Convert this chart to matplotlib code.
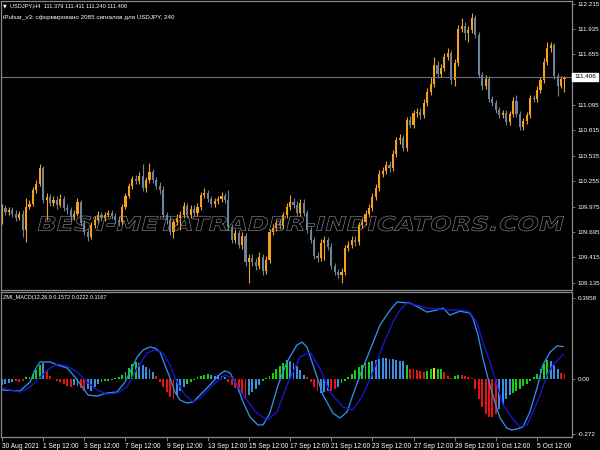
import numpy as np
import matplotlib
matplotlib.use("Agg")
import matplotlib.pyplot as plt
from matplotlib.textpath import TextPath
from matplotlib.patches import PathPatch
from matplotlib.font_manager import FontProperties
from matplotlib.transforms import Affine2D, blended_transform_factory

plt.rcParams['font.family'] = ['Liberation Sans', 'DejaVu Sans']

W, H = 600, 450

# USDJPY H4 candles
first_open = 109.828
closes = [109.960, 109.916, 109.938, 109.894, 109.850, 109.894, 109.718, 109.971, 110.004, 110.159,
          110.225, 110.401, 110.049, 110.082, 110.015, 110.049, 109.993, 110.060, 109.960, 109.938,
          109.861, 109.894, 110.027, 109.795, 109.696, 109.641, 109.773, 109.828, 109.883, 109.850,
          109.883, 109.905, 109.872, 109.828, 109.806, 109.971, 110.093, 110.203, 110.280, 110.258,
          110.313, 110.181, 110.269, 110.357, 110.269, 110.203, 110.159, 109.883, 109.828, 109.696,
          109.806, 109.850, 109.883, 109.982, 109.883, 109.949, 109.905, 109.971, 110.104, 110.126,
          110.060, 110.004, 110.038, 110.060, 110.093, 110.049, 109.751, 109.608, 109.685, 109.553,
          109.652, 109.365, 109.409, 109.365, 109.321, 109.420, 109.266, 109.387, 109.696, 109.740,
          109.795, 109.762, 109.883, 109.971, 110.027, 109.993, 109.905, 110.015, 109.905, 109.718,
          109.608, 109.431, 109.409, 109.574, 109.608, 109.530, 109.321, 109.255, 109.222, 109.255,
          109.519, 109.553, 109.608, 109.586, 109.773, 109.806, 109.894, 109.960, 110.082, 110.181,
          110.335, 110.368, 110.434, 110.401, 110.556, 110.710, 110.732, 110.622, 110.931, 110.876,
          111.008, 111.019, 110.986, 111.118, 111.239, 111.328, 111.537, 111.438, 111.504, 111.625,
          111.669, 111.372, 111.559, 111.934, 111.967, 111.890, 111.923, 112.055, 111.868, 111.427,
          111.305, 111.383, 111.162, 111.118, 111.041, 110.986, 111.008, 110.908, 110.997, 111.140,
          110.997, 110.853, 110.920, 110.986, 111.173, 111.162, 111.261, 111.372, 111.570, 111.724,
          111.757, 111.416, 111.305, 111.379, 111.406]
highs = [110.004, 109.993, 109.971, 109.971, 109.938, 109.927, 109.938, 110.071, 110.049, 110.192,
         110.269, 110.446, 110.424, 110.126, 110.115, 110.093, 110.093, 110.115, 110.093, 110.004,
         109.971, 109.938, 110.071, 110.049, 109.828, 109.729, 109.806, 109.872, 109.927, 109.916,
         109.916, 109.938, 109.938, 109.905, 109.872, 110.004, 110.126, 110.236, 110.313, 110.324,
         110.357, 110.446, 110.302, 110.457, 110.390, 110.302, 110.247, 110.203, 109.916, 109.872,
         109.839, 109.894, 109.927, 110.027, 110.015, 109.993, 109.993, 110.015, 110.137, 110.181,
         110.159, 110.093, 110.071, 110.093, 110.137, 110.126, 110.159, 109.784, 109.729, 109.718,
         109.696, 109.685, 109.454, 109.454, 109.409, 109.476, 109.454, 109.432, 109.729, 109.784,
         109.839, 109.839, 109.916, 110.015, 110.104, 110.071, 110.038, 110.060, 110.060, 109.938,
         109.751, 109.641, 109.476, 109.619, 109.652, 109.641, 109.575, 109.354, 109.288, 109.299,
         109.553, 109.597, 109.652, 109.652, 109.806, 109.850, 109.938, 110.004, 110.126, 110.225,
         110.380, 110.413, 110.479, 110.479, 110.600, 110.743, 110.776, 110.765, 110.964, 110.975,
         111.041, 111.063, 111.063, 111.162, 111.283, 111.405, 111.625, 111.581, 111.548, 111.669,
         111.724, 111.702, 111.603, 111.978, 112.055, 112.011, 111.967, 112.110, 112.088, 111.901,
         111.460, 111.427, 111.416, 111.195, 111.151, 111.074, 111.041, 111.041, 111.030, 111.184,
         111.206, 111.030, 110.953, 111.019, 111.206, 111.206, 111.305, 111.405, 111.614, 111.791,
         111.791, 111.780, 111.449, 111.416, 111.411]
lows = [109.784, 109.883, 109.883, 109.861, 109.817, 109.828, 109.641, 109.586, 109.949, 109.982,
        110.126, 110.203, 110.015, 109.828, 109.982, 109.982, 109.949, 109.971, 109.927, 109.894,
        109.817, 109.828, 109.872, 109.762, 109.663, 109.597, 109.619, 109.740, 109.795, 109.817,
        109.817, 109.861, 109.839, 109.795, 109.762, 109.773, 109.949, 110.071, 110.170, 110.225,
        110.225, 110.148, 110.137, 110.236, 110.236, 110.170, 110.115, 109.850, 109.784, 109.663,
        109.630, 109.773, 109.718, 109.850, 109.850, 109.850, 109.872, 109.872, 109.938, 110.071,
        110.027, 109.971, 109.971, 110.004, 110.027, 110.015, 109.718, 109.575, 109.575, 109.520,
        109.509, 109.321, 109.134, 109.321, 109.277, 109.288, 109.222, 109.233, 109.354, 109.663,
        109.707, 109.729, 109.729, 109.850, 109.938, 109.960, 109.872, 109.872, 109.872, 109.685,
        109.575, 109.398, 109.365, 109.376, 109.387, 109.498, 109.288, 109.222, 109.189, 109.134,
        109.222, 109.487, 109.520, 109.542, 109.553, 109.740, 109.773, 109.861, 109.927, 110.049,
        110.148, 110.302, 110.335, 110.357, 110.368, 110.523, 110.666, 110.589, 110.589, 110.842,
        110.842, 110.964, 110.942, 110.953, 111.085, 111.206, 111.294, 111.394, 111.405, 111.471,
        111.592, 111.328, 111.305, 111.526, 111.901, 111.813, 111.791, 111.890, 111.835, 111.394,
        111.261, 111.272, 111.129, 111.085, 111.008, 110.953, 110.953, 110.876, 110.876, 110.964,
        110.964, 110.820, 110.820, 110.887, 110.953, 111.129, 111.129, 111.228, 111.339, 111.537,
        111.680, 111.383, 111.195, 111.283, 111.240]
last_price = 111.406

price_ticks = [112.215, 111.935, 111.655, 111.375, 111.095, 110.815,
               110.535, 110.255, 109.975, 109.695, 109.415, 109.135]

# ZMI_MACD sub window
hist = [-0.029, -0.024, -0.020, -0.015, -0.010, -0.015, -0.010, 0.010, 0.010, 0.024,
        0.044, 0.068, 0.078, 0.039, 0.015, 0.005, -0.010, -0.015, -0.024, -0.034,
        -0.039, -0.029, -0.034, -0.044, -0.059, -0.049, -0.059, -0.039, -0.024, -0.015,
        -0.010, -0.010, -0.005, 0.005, 0.010, 0.020, 0.034, 0.054, 0.073, 0.083,
        0.078, 0.068, 0.059, 0.049, 0.034, 0.015, -0.015, -0.039, -0.064, -0.088,
        -0.098, -0.078, -0.059, -0.039, -0.024, -0.015, -0.005, 0.010, 0.015, 0.020,
        0.024, 0.020, 0.015, 0.020, 0.015, 0.010, -0.015, -0.029, -0.044, -0.059,
        -0.073, -0.088, -0.078, -0.064, -0.049, -0.029, -0.010, 0.005, 0.015, 0.029,
        0.049, 0.064, 0.078, 0.093, 0.088, 0.078, 0.064, 0.044, 0.020, 0.010,
        -0.015, -0.039, -0.059, -0.068, -0.064, -0.059, -0.059, -0.049, -0.039, -0.020,
        -0.010, 0.010, 0.024, 0.044, 0.059, 0.068, 0.078, 0.083, 0.088, 0.093,
        0.098, 0.103, 0.103, 0.098, 0.098, 0.093, 0.088, 0.088, 0.068, 0.049,
        0.049, 0.044, 0.039, 0.034, 0.039, 0.049, 0.054, 0.049, 0.049, 0.034,
        0.015, 0.005, 0.015, 0.020, 0.020, 0.015, 0.010, 0.005, -0.049, -0.098,
        -0.137, -0.171, -0.186, -0.186, -0.171, -0.147, -0.122, -0.098, -0.078, -0.068,
        -0.059, -0.049, -0.034, -0.024, -0.010, 0.010, 0.024, 0.049, 0.073, 0.093,
        0.088, 0.068, 0.049, 0.029, 0.022]
hist_state = ("bbbb" "rrr" "ggggg" "b" "rrrrrrrr" "bb" "rr" "bbbb" "ggggggggggg" "bbbbb"
              "rrrrrr" "bbb" "ggggggg" "bbbbb" "rrrrrr" "bbbb" "gggggggg" "bbbbb" "rrrr"
              "bbb" "rr" "b" "ggggggggg" "bbbbbbbbbb" "g" "rrrrr" "gg" "y" "gg" "rrr" "gg"
              "rrrr" "rrrrrrr" "bbbb" "ggggggggggg" "bbb" "rr")

macd_x = [0, 5.2, 8.2, 9.6, 11.1, 14, 16.3, 19, 21.3, 23.6, 25.1, 27.7, 30.6, 33.5, 35.9,
          37.9, 39.4, 41.1, 43.1, 44.6, 46.1, 47.5, 49, 50.4, 51.9, 53.9, 55.7, 57.7, 60.6,
          63.6, 65, 66.5, 68.5, 70.3, 72.3, 74.6, 76.1, 78.1, 80.5, 83.1, 86, 87.5, 88.9,
          90.7, 93.6, 96.5, 98.5, 100.6, 102.3, 104.4, 107.3, 110.2, 113.1, 115.2, 119,
          121.9, 123.9, 126.8, 128.6, 130.6, 132.1, 133.5, 136.4, 137.3, 138.8, 140.2,
          141.7, 143.7, 145.2, 147.2, 148.7, 150.1, 151.9, 153.9, 156, 157.7, 159.8, 161.8, 163.6]
macd_v = [-0.055, -0.060, -0.016, 0.043, 0.082, 0.082, 0.067, 0.052, 0.008, -0.045, -0.080,
          -0.085, -0.070, -0.065, -0.016, 0.052, 0.106, 0.140, 0.155, 0.150, 0.130, 0.067,
          0.003, -0.065, -0.104, -0.119, -0.114, -0.080, -0.031, 0.023, 0.038, 0.028, -0.031,
          -0.114, -0.187, -0.226, -0.226, -0.168, -0.031, 0.082, 0.165, 0.179, 0.155, 0.067,
          -0.080, -0.168, -0.192, -0.163, -0.080, 0.018, 0.140, 0.262, 0.335, 0.375, 0.370,
          0.345, 0.326, 0.336, 0.345, 0.311, 0.321, 0.330, 0.321, 0.296, 0.213, 0.101, 0.003,
          -0.114, -0.192, -0.241, -0.251, -0.246, -0.236, -0.163, -0.045, 0.067, 0.130, 0.160, 0.157]
signal_x = [0, 2.3, 5.2, 8.2, 11.1, 14, 16.3, 19, 21.9, 24.8, 27.7, 30.6, 33.5, 36.4, 39.4,
            42.3, 44.6, 46.9, 49, 51, 53.4, 55.7, 57.7, 61.5, 65, 67.3, 70.3, 74.3, 77.3, 80.2,
            83.1, 86.9, 89.8, 92.7, 95.6, 99.4, 102.3, 105.2, 108.2, 111.1, 114, 116, 118.1,
            121, 123.9, 127.7, 131.5, 134.4, 136.4, 138.5, 140.2, 142.3, 144.3, 146.1, 148.7,
            151, 153.1, 154.8, 156.9, 158.9, 160.7, 162.8, 163.6]
signal_v = [-0.045, -0.055, -0.065, -0.041, 0.008, 0.052, 0.072, 0.062, 0.033, -0.016, -0.055,
            -0.075, -0.070, -0.041, 0.052, 0.126, 0.140, 0.126, 0.067, -0.016, -0.080, -0.114,
            -0.094, -0.031, 0.018, 0.003, -0.080, -0.168, -0.202, -0.163, -0.031, 0.106, 0.130,
            0.052, -0.065, -0.138, -0.153, -0.080, 0.033, 0.165, 0.277, 0.335, 0.370, 0.359,
            0.345, 0.340, 0.335, 0.335, 0.326, 0.272, 0.179, 0.082, -0.031, -0.129, -0.192,
            -0.236, -0.226, -0.163, -0.080, 0.018, 0.067, 0.106, 0.117]
macd_ticks = [0.3958, 0.0, -0.272]
macd_tick_labels = ['0.3958', '0.00', '-0.272']

date_idx = [0, 12, 24, 36, 48, 60, 72, 84, 96, 108, 120, 132, 144, 156]
date_labels = ['30 Aug 2021', '1 Sep 12:00', '3 Sep 12:00', '7 Sep 12:00', '9 Sep 12:00',
               '13 Sep 12:00', '15 Sep 12:00', '17 Sep 12:00', '21 Sep 12:00', '23 Sep 12:00',
               '27 Sep 12:00', '29 Sep 12:00', '1 Oct 12:00', '5 Oct 12:00']

header1 = 'USDJPY,H4  111.379 111.411 111.240 111.406'
header2 = 'iPulsar_v3: сформировано 2085 сигналов для USDJPY, 240'
macd_title = 'ZMI_MACD(12,26,9 0.1572 0.0222 0.1167'
watermark = 'BEST-METATRADER-INDICATORS.COM'

UP = '#F5A11C'
DOWN = '#6E8298'
FRAME = '#8a8a8a'
hist_cmap = {'g': '#18D018', 'r': '#E81414', 'b': '#3A8EE0', 'y': '#E8E010'}

fig = plt.figure(figsize=(6, 4.5), dpi=100, facecolor='black')


def px_box(x0, y0, x1, y1):
    return [x0 / W, 1 - y1 / H, (x1 - x0) / W, (y1 - y0) / H]


ax = fig.add_axes(px_box(0.5, 1, 572, 290), facecolor='black')
ax2 = fig.add_axes(px_box(0.5, 292, 572, 437), facecolor='black')

# candles
n = len(closes)
idx = np.arange(n)
o = np.array([first_open] + closes[:-1])
c = np.array(closes)
hi = np.maximum(np.array(highs), np.maximum(o, c))
lo = np.minimum(np.array(lows), np.minimum(o, c))
col = np.where(c >= o, UP, DOWN)
ax.vlines(idx, lo, hi, colors=col, lw=0.8)
ax.bar(idx, np.maximum(np.abs(c - o), 0.004), bottom=np.minimum(o, c), width=0.62, color=col, lw=0)

ax.axhline(last_price, color='#707070', lw=0.8)
ax.set_xlim(-0.44, 166.2)
ax.set_ylim(109.056, 112.243)
ax.set_xticks([])
ax.yaxis.tick_right()
# the 111.375 label sits under the current price box, as in MT4
price_labels = ['' if abs(v - last_price) < 0.1 else f'{v:.3f}' for v in price_ticks]
ax.set_yticks(price_ticks, price_labels)
ax.tick_params(axis='y', colors=FRAME, labelcolor='white', labelsize=4.5, length=2.5, width=0.6, pad=1.5)
ax.text(1.004, last_price, f'{last_price:.3f}', transform=blended_transform_factory(ax.transAxes, ax.transData),
        ha='left', va='center', fontsize=4.5, color='black', clip_on=False, zorder=10,
        bbox=dict(boxstyle='square,pad=0.3', fc='white', ec='white'))

# MACD panel
ax2.bar(idx, hist, width=0.55, color=[hist_cmap[s] for s in hist_state], lw=0)
ax2.plot(macd_x, macd_v, color='#2E90EA', lw=0.95)
ax2.plot(signal_x, signal_v, color='#1818D8', lw=0.95)
ax2.set_xlim(-0.44, 166.2)
ax2.set_ylim(-0.285, 0.424)
ax2.yaxis.tick_right()
ax2.set_yticks(macd_ticks, macd_tick_labels)
ax2.set_xticks(date_idx, date_labels, ha='left')
ax2.tick_params(axis='y', colors=FRAME, labelcolor='white', labelsize=4.5, length=2.5, width=0.6, pad=1.5)
ax2.tick_params(axis='x', colors=FRAME, labelcolor='white', labelsize=4.8, length=3, width=0.6, pad=1.5)

for a in (ax, ax2):
    for s in a.spines.values():
        s.set_color(FRAME)
        s.set_linewidth(0.9)

# header texts
fig.text(3 / W, 1 - 6 / H, '▼', fontsize=3.5, color='white', va='center', family='DejaVu Sans')
fig.text(10 / W, 1 - 6 / H, header1, fontsize=4.1, color='white', va='center')
fig.text(3 / W, 1 - 17 / H, header2, fontsize=4.5, color='white', va='center')
fig.text(3 / W, 1 - 298 / H, macd_title, fontsize=4.0, color='white', va='center')

# outlined watermark
tp = TextPath((0, 0), watermark, size=10, prop=FontProperties(family='DejaVu Sans', weight='bold'))
ext = tp.get_extents()
tr = (Affine2D().translate(-ext.x0, -ext.y0).scale(522 / ext.width, 15 / ext.height)
      .skew_deg(14, 0).translate(38, H - 231))
fig.add_artist(PathPatch(tp, transform=tr, fc='none', ec='#8a8a8a', lw=0.45, zorder=20))

fig.savefig('out.png', dpi=100, facecolor='black')
